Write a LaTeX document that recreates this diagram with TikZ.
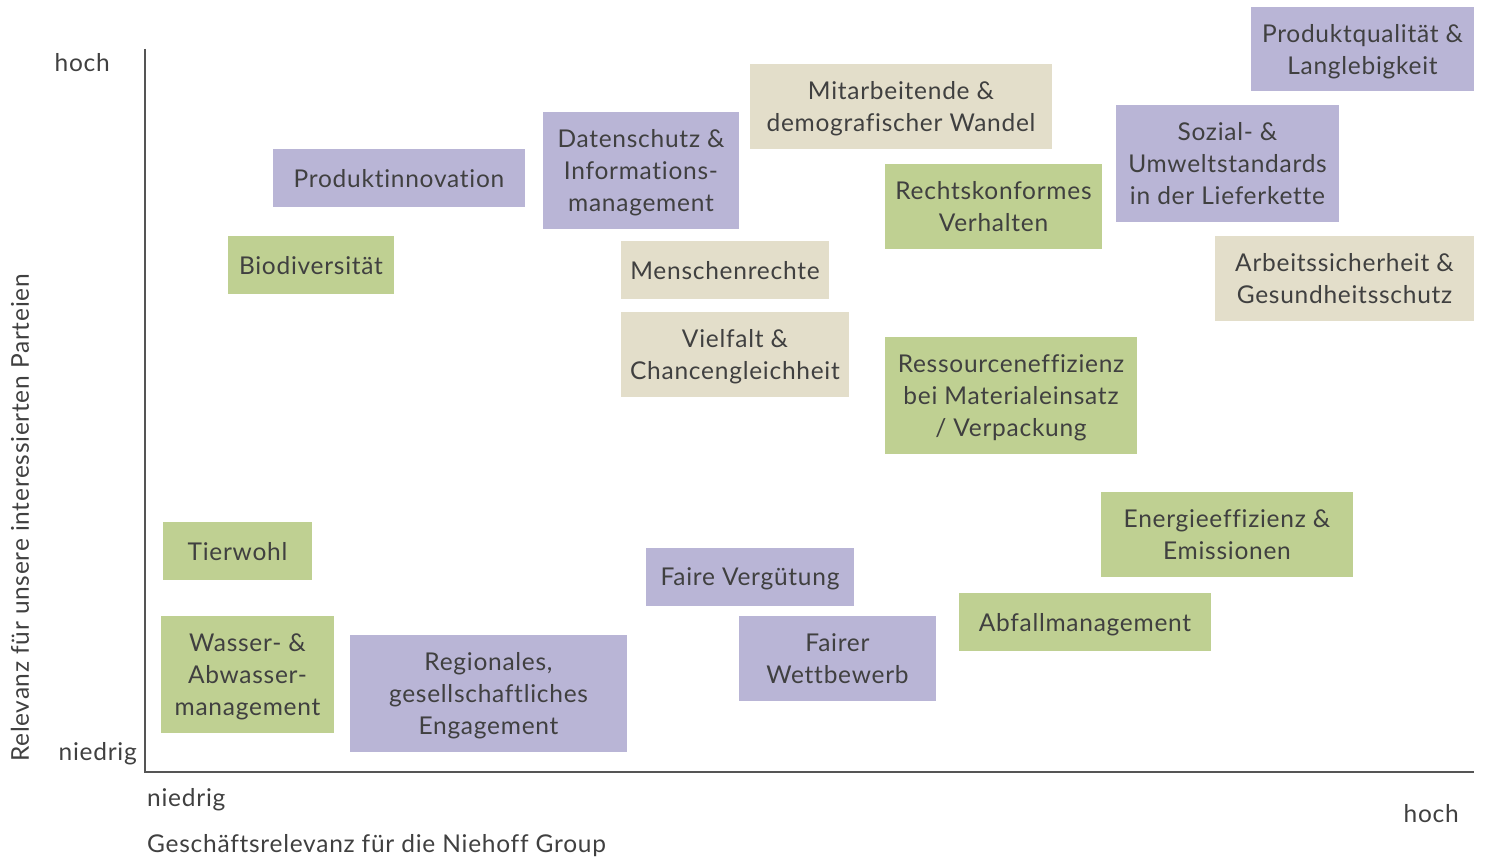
\documentclass[tikz,border=0pt]{standalone}
\usepackage{fontspec}
\setmainfont{Lato}[LetterSpace=3,Ligatures={NoCommon}]
\definecolor{cpur}{HTML}{B9B5D6}
\definecolor{cgrn}{HTML}{BFD092}
\definecolor{cbei}{HTML}{E3DECA}
\definecolor{ctxt}{HTML}{404040}
\definecolor{caxis}{HTML}{555555}
\newcommand{\mybox}[7]{%
  \node[boxstyle, fill=#6, minimum width={(#4-#2)*1pt}, minimum height={(#5-#3)*1pt}]
    (#1) at ({(#2+#4)/2},{(#3+#5)/2}) {#7};}
\begin{document}
\begin{tikzpicture}[x=1pt,y=-1pt,
  boxstyle/.style={rectangle, inner sep=0pt, align=center, text=ctxt,
    font=\fontsize{24.5}{32}\selectfont, text depth=0pt},
  lbl/.style={text=ctxt, inner sep=0pt, font=\fontsize{24.5}{32}\selectfont},
  axisline/.style={draw=caxis, line width=2pt}]
\useasboundingbox (0,0) rectangle (1485,858);
\coordinate (top) at (145,49);
\coordinate (orig) at (145,772);
\coordinate (right) at (1474,772);
\draw[axisline] (top) -- (orig) -- (right);
\mybox{pq}{1251}{7}{1474}{91}{cpur}{Produktqualität \&\\Langlebigkeit}
\mybox{mit}{750}{64}{1052}{149}{cbei}{Mitarbeitende \&\\demografischer Wandel}
\mybox{ds}{543}{112}{739}{229}{cpur}{Datenschutz \&\\Informations-\\management}
\mybox{pi}{273}{149}{525}{207}{cpur}{Produktinnovation}
\mybox{su}{1116}{105}{1339}{222}{cpur}{Sozial- \&\\Umweltstandards\\in der Lieferkette}
\mybox{rk}{885}{164}{1102}{249}{cgrn}{Rechtskonformes\\Verhalten}
\mybox{bio}{228}{236}{394}{294}{cgrn}{Biodiversität}
\mybox{mr}{621}{241}{829}{299}{cbei}{Menschenrechte}
\mybox{as}{1215}{236}{1474}{321}{cbei}{Arbeitssicherheit \&\\Gesundheitsschutz}
\mybox{vc}{621}{312}{849}{397}{cbei}{Vielfalt \&\\Chancengleichheit}
\mybox{re}{885}{337}{1137}{454}{cgrn}{Ressourceneffizienz\\bei Materialeinsatz\\/ Verpackung}
\mybox{ee}{1101}{492}{1353}{577}{cgrn}{Energieeffizienz \&\\Emissionen}
\mybox{tw}{163}{522}{312}{580}{cgrn}{Tierwohl}
\mybox{fv}{646}{548}{854}{606}{cpur}{Faire Vergütung}
\mybox{am}{959}{593}{1211}{651}{cgrn}{Abfallmanagement}
\mybox{wa}{161}{616}{334}{733}{cgrn}{Wasser- \&\\Abwasser-\\management}
\mybox{rg}{350}{635}{627}{752}{cpur}{Regionales,\\gesellschaftliches\\Engagement}
\mybox{fw}{739}{616}{936}{701}{cpur}{Fairer\\Wettbewerb}
\node[lbl, anchor=east] (yhi) at (110,63) {hoch};
\node[lbl, anchor=east] (ylo) at (137,754) {niedrig};
\node[lbl, anchor=west] (xlo) at (147,800) {niedrig};
\node[lbl, anchor=east] (xhi) at (1459,814) {hoch};
\node[lbl, anchor=west] (xlab) at (147,846) {Geschäftsrelevanz für die Niehoff Group};
\node[lbl, rotate=90] (ylab) at (20,518) {Relevanz für unsere interessierten Parteien};
\end{tikzpicture}
\end{document}
